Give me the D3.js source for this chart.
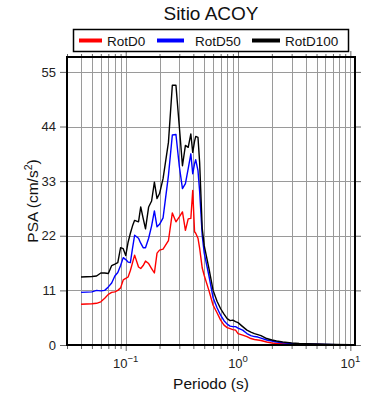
<!DOCTYPE html>
<html lang="es">
<head>
  <meta charset="UTF-8">
  <title>Sitio ACOY</title>
  <script src="https://d3js.org/d3.v7.min.js"></script>
  <style>
    body { margin: 0; background: #fff; }
    svg { display: block; font-family: "Liberation Sans", Arial, Helvetica, sans-serif; }
  </style>
</head>
<body>
  <svg id="chart" width="390" height="400"></svg>

  <script>
    // periods (s) and spectral values (cm/s2)
    const periods = [0.04, 0.05, 0.055, 0.06, 0.065, 0.07, 0.075, 0.08, 0.085, 0.09, 0.095,
      0.1, 0.105, 0.11, 0.115, 0.12, 0.13, 0.136, 0.143, 0.15, 0.16, 0.17, 0.18, 0.19, 0.2,
      0.215, 0.24, 0.26, 0.28, 0.3, 0.32, 0.34, 0.36, 0.38, 0.395, 0.41, 0.42, 0.44, 0.455,
      0.48, 0.5, 0.55, 0.6, 0.65, 0.7, 0.75, 0.8, 0.85, 0.9, 0.95, 1.0, 1.1, 1.2, 1.3, 1.4,
      1.5, 1.6, 1.8, 2.0, 2.2, 2.5, 3.0, 3.5, 4.0, 5.0, 6.0, 7.5, 10];

    const rotD0 = [8.2, 8.3, 8.4, 8.7, 9.4, 10.2, 10.6, 10.7, 11.0, 11.5, 13.1,
      13.4, 13.7, 15.0, 16.6, 18.1, 15.7, 15.4, 16.0, 16.9, 16.4, 15.4, 14.5, 18.5, 19.1,
      19.3, 21.0, 26.6, 24.8, 25.8, 26.8, 23.1, 25.4, 25.5, 31.1, 22.8, 22.5, 21.5, 19.5,
      15.5, 14.0, 11.0, 8.0, 6.5, 5.0, 4.0, 3.5, 3.3, 3.1, 3.0, 2.3, 2.0, 1.7, 1.3, 1.1,
      1.0, 0.9, 0.6, 0.4, 0.3, 0.25, 0.2, 0.15, 0.12, 0.1, 0.08, 0.06, 0.04];

    const rotD50 = [10.6, 10.7, 11.0, 10.9, 11.0, 11.7, 12.5, 13.9, 14.6, 16.0, 17.6,
      17.2, 16.7, 16.6, 19.5, 22.1, 21.5, 20.5, 19.6, 19.6, 21.5, 24.0, 27.0, 23.8, 24.3,
      25.6, 34.1, 42.3, 42.4, 36.0, 31.5, 32.5, 35.5, 38.5, 34.5, 36.5, 37.3, 35.1, 31.0,
      22.0, 18.5, 14.0, 9.5, 7.5, 6.0, 4.9, 4.2, 3.8, 3.7, 3.7, 3.4, 3.0, 2.3, 1.9, 1.7,
      1.6, 1.4, 1.0, 0.8, 0.6, 0.45, 0.3, 0.25, 0.2, 0.15, 0.12, 0.08, 0.05];

    const rotD100 = [13.7, 13.8, 13.9, 14.5, 14.5, 14.4, 16.0, 16.3, 16.6, 19.6, 19.4,
      18.0, 20.7, 22.5, 24.0, 25.1, 24.8, 27.8, 25.5, 23.4, 27.8, 29.0, 32.8, 29.5, 30.5,
      33.5, 40.8, 52.3, 52.3, 44.0, 36.1, 40.2, 39.8, 42.5, 38.8, 41.0, 42.0, 41.8, 36.8,
      23.5, 20.0, 15.5, 11.0, 8.8, 7.3, 6.2, 5.3, 4.9, 5.0, 4.7, 4.5, 3.7, 3.0, 2.6, 2.3,
      2.1, 1.9, 1.3, 1.0, 0.8, 0.6, 0.4, 0.3, 0.25, 0.2, 0.15, 0.1, 0.07];

    const seriesNames = ["RotD0", "RotD50", "RotD100"];
    const seriesColors = ["#ff0000", "#0000ff", "#000000"];
    const yTicks = [0, 11, 22, 33, 44, 55];
    const xLabelTicks = [0.1, 1, 10];
    const xLabelExp = ["\u22121", "0", "1"];

    const svg = d3.select("#chart");
    const pLeft = 67, pRight = 355, pTop = 57, pBottom = 345;

    const x = d3.scaleLog().domain([0.03, 11]).range([pLeft, pRight]);
    const y = d3.scaleLinear().domain([0, 58]).range([pBottom, pTop]);

    // grid
    const grid = svg.append("g").attr("stroke", "#9a9a9a").attr("stroke-width", 1);
    grid.selectAll(".vg").data(x.ticks()).join("line")
      .attr("x1", d => Math.round(x(d)) + 0.5).attr("x2", d => Math.round(x(d)) + 0.5)
      .attr("y1", pTop).attr("y2", pBottom);
    grid.selectAll(".hg").data(yTicks.filter(d => d > 0)).join("line")
      .attr("x1", pLeft).attr("x2", pRight)
      .attr("y1", d => Math.round(y(d)) + 0.5).attr("y2", d => Math.round(y(d)) + 0.5);

    // axes (ticks outside the frame)
    const xb = svg.append("g").attr("transform", `translate(0,${pBottom})`)
      .call(d3.axisBottom(x).tickValues(x.ticks()).tickSize(5).tickFormat(""));
    const xt = svg.append("g").attr("transform", `translate(0,${pTop})`)
      .call(d3.axisTop(x).tickValues(x.ticks()).tickSize(4).tickFormat(""));
    const yl = svg.append("g").attr("transform", `translate(${pLeft},0)`)
      .call(d3.axisLeft(y).tickValues(yTicks).tickSize(7).tickPadding(4));
    const yr = svg.append("g").attr("transform", `translate(${pRight},0)`)
      .call(d3.axisRight(y).tickValues(yTicks).tickSize(6).tickFormat(""));
    [xb, xt, yl, yr].forEach(g => {
      g.select(".domain").remove();
      g.selectAll(".tick line").attr("stroke", "#666");
    });
    xb.selectAll(".tick line").attr("y2", d => xLabelTicks.includes(d) ? 6 : 4);
    xt.selectAll(".tick line").attr("y2", d => xLabelTicks.includes(d) ? -6 : -3);
    yl.selectAll(".tick text").attr("font-size", 13).attr("fill", "#222")
      .attr("font-family", "Liberation Sans, Arial, sans-serif");

    // x tick labels 10^n
    const xl = svg.append("g").attr("font-size", 13).attr("fill", "#222");
    xLabelTicks.forEach((t, i) => {
      const txt = xl.append("text").attr("x", x(t)).attr("y", 368).attr("text-anchor", "middle");
      txt.append("tspan").text("10");
      txt.append("tspan").attr("dy", -6).attr("font-size", 9.5).text(xLabelExp[i]);
    });

    // curves
    const line = d3.line().x(d => x(d[0])).y(d => y(d[1]));
    [rotD0, rotD50, rotD100].forEach((vals, i) => {
      svg.append("path")
        .datum(periods.map((p, j) => [p, vals[j]]))
        .attr("fill", "none")
        .attr("stroke", seriesColors[i])
        .attr("stroke-width", 1.4)
        .attr("stroke-linejoin", "round")
        .attr("d", line);
    });

    // frame
    svg.append("rect")
      .attr("x", pLeft).attr("y", pTop)
      .attr("width", pRight - pLeft).attr("height", pBottom - pTop)
      .attr("fill", "none").attr("stroke", "#000").attr("stroke-width", 2);

    // title
    svg.append("text").attr("x", (pLeft + pRight) / 2).attr("y", 20)
      .attr("text-anchor", "middle").attr("font-size", 19).attr("fill", "#111")
      .text("Sitio ACOY");

    // legend
    const lg = svg.append("g");
    lg.append("rect").attr("x", 73.5).attr("y", 29.5).attr("width", 275).attr("height", 22)
      .attr("fill", "#fff").attr("stroke", "#000").attr("stroke-width", 1.5);
    const legItems = [
      { x0: 79, x1: 102, tx: 107 },
      { x0: 157, x1: 184, tx: 195 },
      { x0: 252, x1: 280, tx: 285 }
    ];
    legItems.forEach((it, i) => {
      lg.append("line").attr("x1", it.x0).attr("x2", it.x1).attr("y1", 40.5).attr("y2", 40.5)
        .attr("stroke", seriesColors[i]).attr("stroke-width", 4);
      lg.append("text").attr("x", it.tx).attr("y", 45.5).attr("font-size", 13.5)
        .attr("fill", "#111").text(seriesNames[i]);
    });

    // axis titles
    svg.append("text").attr("x", (pLeft + pRight) / 2).attr("y", 389)
      .attr("text-anchor", "middle").attr("font-size", 15.5).attr("fill", "#111")
      .text("Periodo (s)");
    const yt = svg.append("text")
      .attr("transform", `translate(38,${(pTop + pBottom) / 2}) rotate(-90)`)
      .attr("text-anchor", "middle").attr("font-size", 15.5).attr("fill", "#111");
    yt.append("tspan").text("PSA (cm/s");
    yt.append("tspan").attr("dy", -6).attr("font-size", 10.5).text("2");
    yt.append("tspan").attr("dy", 6).text(")");
  </script>
</body>
</html>
